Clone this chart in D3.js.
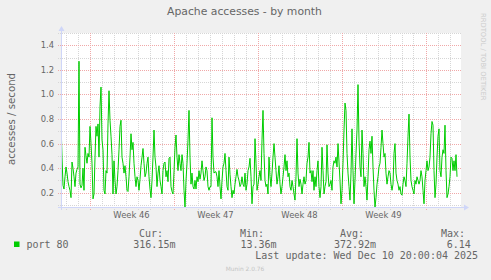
<!DOCTYPE html>
<html>
<head>
<meta charset="utf-8">
<script src="https://cdn.jsdelivr.net/npm/d3@7"></script>
<style>
	body { margin: 0; background: #f0f0f0; }
	svg { display: block; font-family: "DejaVu Sans", sans-serif; }
	.mono { font-family: "DejaVu Sans Mono", monospace; }
</style>
</head>
<body>
<svg id="chart" width="491" height="280"></svg>
<script>
// accesses per second, one reading every 2 hours
var values = [
	0.78, 0.49, 0.26, 0.23, 0.33, 0.41, 0.36, 0.29, 0.25, 0.22, 0.16, 0.45, 0.40, 0.33, 0.25, 0.36, 0.39, 0.41, 1.27, 0.27,
	0.24, 0.26, 0.40, 0.22, 0.57, 0.50, 0.44, 0.52, 0.49, 0.74, 0.60, 0.44, 0.15, 0.19, 0.49, 0.74, 0.66, 0.76, 0.49, 0.90,
	1.06, 0.63, 0.55, 0.22, 0.19, 0.38, 0.36, 0.76, 1.03, 0.79, 0.66, 0.51, 0.19, 0.46, 0.30, 0.19, 0.25, 0.38, 0.55, 0.74,
	0.79, 0.49, 0.44, 0.36, 0.42, 0.33, 0.22, 0.21, 0.33, 0.49, 0.68, 0.55, 0.61, 0.44, 0.33, 0.25, 0.33, 0.30, 0.22, 0.31,
	0.42, 0.49, 0.56, 0.44, 0.33, 0.36, 0.44, 0.49, 0.33, 0.23, 0.16, 0.30, 0.49, 0.71, 0.49, 0.41, 0.25, 0.36, 0.42, 0.30,
	0.25, 0.19, 0.38, 0.44, 0.45, 0.33, 0.38, 0.29, 0.48, 0.49, 0.25, 0.21, 0.19, 0.37, 0.57, 0.67, 0.49, 0.38, 0.51, 0.44,
	0.38, 0.51, 0.44, 0.22, 0.08, 0.30, 0.44, 0.63, 0.87, 0.49, 0.27, 0.36, 0.25, 0.23, 0.30, 0.23, 0.33, 0.29, 0.38, 0.31,
	0.36, 0.46, 0.38, 0.30, 0.33, 0.41, 0.38, 0.25, 0.22, 0.25, 0.25, 0.81, 0.49, 0.36, 0.37, 0.37, 0.33, 0.25, 0.38, 0.25,
	0.15, 0.30, 0.41, 0.44, 0.52, 0.38, 0.25, 0.22, 0.49, 0.35, 0.25, 0.16, 0.22, 0.19, 0.27, 0.33, 0.39, 0.33, 0.30, 0.25,
	0.27, 0.33, 0.27, 0.25, 0.36, 0.22, 0.27, 0.38, 0.41, 0.48, 0.33, 0.11, 0.25, 0.27, 0.64, 0.44, 0.22,
	0.27, 0.33, 0.38, 0.30, 0.63, 0.87, 0.52, 0.30, 0.25, 0.27, 0.19, 0.49, 0.33, 0.25, 0.36, 0.49, 0.60, 0.49, 0.38, 0.27,
	0.33, 0.42, 0.27, 0.19, 0.25, 0.33, 0.41, 0.51, 0.38, 0.46, 0.33, 0.36, 0.25, 0.22, 0.30, 0.25, 0.19, 0.14, 0.33, 0.64,
	0.36, 0.25, 0.31, 0.27, 0.19, 0.27, 0.33, 0.27, 0.30, 0.44, 0.49, 0.61, 0.36, 0.38, 0.29, 0.38, 0.22, 0.33, 0.25, 0.38,
	0.46, 0.25, 0.16, 0.25, 0.57, 0.38, 0.19, 0.25, 0.29, 0.59, 0.36, 0.25, 0.27, 0.30, 0.22, 0.41, 0.46, 0.44, 0.49, 0.41,
	0.60, 0.45, 0.30, 0.11, 0.22, 0.44, 0.71, 0.93, 0.87, 0.52, 0.36, 0.25, 0.14, 0.36, 0.72, 0.38, 0.11, 0.30, 0.52, 0.71,
	1.08, 0.63, 0.41, 0.33, 0.71, 0.52, 0.25, 0.33, 0.25, 0.14, 0.33, 0.55, 0.62, 0.52, 0.66, 0.41, 0.22, 0.08, 0.16, 0.27,
	0.33, 0.41, 0.44, 0.57, 0.71, 0.60, 0.49, 0.52, 0.36, 0.27, 0.33, 0.38, 0.36, 0.27, 0.22, 0.27, 0.52, 0.60, 0.36, 0.30,
	0.27, 0.22, 0.25, 0.19, 0.18, 0.27, 0.33, 0.30, 0.25, 0.44, 0.66, 0.84, 0.49, 0.30, 0.25, 0.22, 0.19, 0.30, 0.27, 0.33,
	0.30, 0.27, 0.30, 0.38, 0.33, 0.22, 0.11, 0.30, 0.38, 0.46, 0.38, 0.41, 0.49, 0.68, 0.78, 0.75, 0.38, 0.16, 0.27, 0.49,
	0.66, 0.72, 0.38, 0.33, 0.49, 0.55, 0.52, 0.75, 0.38, 0.16, 0.19, 0.25, 0.33, 0.49, 0.48, 0.38, 0.46, 0.38, 0.51, 0.33
];

// y axis labels
var yTicks = [ 0.2, 0.4, 0.6, 0.8, 1.0, 1.2, 1.4 ];
var yMinor = [ 0.1, 0.3, 0.5, 0.7, 0.9, 1.1, 1.3, 1.5 ];

// legend
var seriesName = "port 80";
var statHeads = [ "Cur:", "Min:", "Avg:", "Max:" ];
var statValues = [ "316.15m", "13.36m", "372.92m", "6.14" ];
var lastUpdate = "Last update: Wed Dec 10 20:00:04 2025";

// time window: 400 steps of 2h
var startTime = Date.UTC( 2025, 10, 7, 15 ),
	stepMs = 2 * 3600 * 1000,
	endTime = startTime + 400 * stepMs;

var svg = d3.select( "#chart" );

var plot = { left: 61, right: 461, top: 33, bottom: 207 },
	axisCol = "#CFD6F8",
	gridCol = "#d6d6d6",
	majorCol = "#f0a8a8",
	fontCol = "#666666";

var x = d3.scaleUtc()
	.domain( [ new Date( startTime ), new Date( endTime ) ] )
	.range( [ plot.left, plot.right ] );

var y = d3.scaleLinear()
	.domain( [ 0.084, 1.5 ] )
	.range( [ plot.bottom, plot.top ] );

// canvas
svg.append( "rect" )
	.attr( "x", plot.left ).attr( "y", plot.top )
	.attr( "width", plot.right - plot.left ).attr( "height", plot.bottom - plot.top )
	.attr( "fill", "#fff" );

function px( v ) { return Math.round( v ) + 0.5; }

var grid = svg.append( "g" ).attr( "shape-rendering", "crispEdges" );

// day grid + week grid
var days = d3.utcDay.range( x.domain()[ 0 ], x.domain()[ 1 ] ).filter( function ( d ) { return d.getUTCDay() != 1; } ),
	mondays = d3.utcMonday.range( x.domain()[ 0 ], x.domain()[ 1 ] );

grid.selectAll( ".vmin" ).data( days ).enter().append( "line" )
	.attr( "x1", function ( d ) { return px( x( d ) ); } )
	.attr( "x2", function ( d ) { return px( x( d ) ); } )
	.attr( "y1", plot.top ).attr( "y2", plot.bottom + 3 )
	.attr( "stroke", gridCol ).attr( "stroke-dasharray", "1,1" );

grid.selectAll( ".hmin" ).data( yMinor ).enter().append( "line" )
	.attr( "x1", plot.left - 3 ).attr( "x2", plot.right )
	.attr( "y1", function ( d ) { return px( y( d ) ); } )
	.attr( "y2", function ( d ) { return px( y( d ) ); } )
	.attr( "stroke", gridCol ).attr( "stroke-dasharray", "1,1" );

grid.selectAll( ".vmaj" ).data( mondays ).enter().append( "line" )
	.attr( "x1", function ( d ) { return px( x( d ) ); } )
	.attr( "x2", function ( d ) { return px( x( d ) ); } )
	.attr( "y1", plot.top ).attr( "y2", plot.bottom + 3 )
	.attr( "stroke", majorCol ).attr( "stroke-dasharray", "1,1" );

grid.selectAll( ".hmaj" ).data( yTicks ).enter().append( "line" )
	.attr( "x1", plot.left - 3 ).attr( "x2", plot.right )
	.attr( "y1", function ( d ) { return px( y( d ) ); } )
	.attr( "y2", function ( d ) { return px( y( d ) ); } )
	.attr( "stroke", majorCol ).attr( "stroke-dasharray", "1,1" );

// tick labels
svg.selectAll( ".ylab" ).data( yTicks ).enter().append( "text" )
	.attr( "x", 54 ).attr( "y", function ( d ) { return y( d ) + 3; } )
	.attr( "text-anchor", "end" ).attr( "font-size", "8.4px" ).attr( "fill", fontCol )
	.text( d3.format( ".1f" ) );

var weekLabels = mondays.map( function ( d ) { return d3.utcHour.offset( d, 84 ); } )
	.filter( function ( d ) { return d < x.domain()[ 1 ]; } );

svg.selectAll( ".xlab" ).data( weekLabels ).enter().append( "text" )
	.attr( "x", function ( d ) { return x( d ); } ).attr( "y", 218 )
	.attr( "text-anchor", "middle" ).attr( "font-size", "8.4px" ).attr( "fill", fontCol )
	.text( function ( d ) { return "Week " + d3.utcFormat( "%V" )( d ); } );

// data line
svg.append( "clipPath" ).attr( "id", "clip" ).append( "rect" )
	.attr( "x", plot.left ).attr( "y", plot.top )
	.attr( "width", plot.right - plot.left ).attr( "height", plot.bottom - plot.top );

var line = d3.line()
	.x( function ( d, i ) { return x( new Date( startTime + i * stepMs ) ); } )
	.y( function ( d ) { return y( d ); } );

svg.append( "path" )
	.datum( values )
	.attr( "clip-path", "url(#clip)" )
	.attr( "d", line )
	.attr( "fill", "none" )
	.attr( "stroke", "#00cc00" )
	.attr( "stroke-width", 1 );

// axes with arrows
var axes = svg.append( "g" ).attr( "shape-rendering", "crispEdges" );
axes.append( "line" )
	.attr( "x1", plot.left - 3 ).attr( "x2", plot.right + 4 )
	.attr( "y1", plot.bottom + 0.5 ).attr( "y2", plot.bottom + 0.5 )
	.attr( "stroke", axisCol );
axes.append( "line" )
	.attr( "x1", plot.left + 0.5 ).attr( "x2", plot.left + 0.5 )
	.attr( "y1", plot.bottom + 3 ).attr( "y2", plot.top - 3 )
	.attr( "stroke", axisCol );
svg.append( "path" )
	.attr( "d", "M" + ( plot.right + 3 ) + "," + ( plot.bottom - 2.5 ) + "L" + ( plot.right + 8 ) + "," + ( plot.bottom + 0.5 ) + "L" + ( plot.right + 3 ) + "," + ( plot.bottom + 3.5 ) + "Z" )
	.attr( "fill", axisCol );
svg.append( "path" )
	.attr( "d", "M" + ( plot.left - 2.5 ) + "," + ( plot.top - 2 ) + "L" + ( plot.left + 0.5 ) + "," + ( plot.top - 7 ) + "L" + ( plot.left + 3.5 ) + "," + ( plot.top - 2 ) + "Z" )
	.attr( "fill", axisCol );

// title + axis label
svg.append( "text" )
	.attr( "x", 244.5 ).attr( "y", 15 )
	.attr( "text-anchor", "middle" ).attr( "font-size", "10.8px" ).attr( "fill", fontCol )
	.text( "Apache accesses - by month" );

svg.append( "text" )
	.attr( "transform", "translate(14.5,119) rotate(-90)" )
	.attr( "text-anchor", "middle" ).attr( "font-size", "10.2px" ).attr( "fill", fontCol )
	.text( "accesses / second" );

svg.append( "text" )
	.attr( "transform", "translate(480.5,13) rotate(90)" )
	.attr( "font-size", "6.8px" ).attr( "fill", "#cccccc" )
	.text( "RRDTOOL / TOBI OETIKER" );

// legend
var headX = [ 139, 240, 340, 441 ],
	valX = [ 133.3, 240.5, 334, 446.7 ];

svg.append( "rect" )
	.attr( "x", 14 ).attr( "y", 241.5 ).attr( "width", 5.5 ).attr( "height", 5.5 )
	.attr( "fill", "#00cc00" );

svg.append( "text" ).attr( "class", "mono" )
	.attr( "x", 26.5 ).attr( "y", 247.5 ).attr( "font-size", "10px" ).attr( "fill", fontCol )
	.text( seriesName );

svg.selectAll( ".head" ).data( statHeads ).enter().append( "text" )
	.attr( "class", "mono" )
	.attr( "x", function ( d, i ) { return headX[ i ]; } ).attr( "y", 236.5 )
	.attr( "font-size", "10px" ).attr( "fill", fontCol )
	.text( function ( d ) { return d; } );

svg.selectAll( ".stat" ).data( statValues ).enter().append( "text" )
	.attr( "class", "mono" )
	.attr( "x", function ( d, i ) { return valX[ i ]; } ).attr( "y", 247.5 )
	.attr( "font-size", "10px" ).attr( "fill", fontCol )
	.text( function ( d ) { return d; } );

svg.append( "text" ).attr( "class", "mono" )
	.attr( "x", 255.3 ).attr( "y", 259.3 ).attr( "font-size", "10px" ).attr( "fill", fontCol )
	.text( lastUpdate );

svg.append( "text" )
	.attr( "x", 245 ).attr( "y", 271 )
	.attr( "text-anchor", "middle" ).attr( "font-size", "5.9px" ).attr( "fill", "#c4c4c4" )
	.text( "Munin 2.0.76" );
</script>
</body>
</html>
